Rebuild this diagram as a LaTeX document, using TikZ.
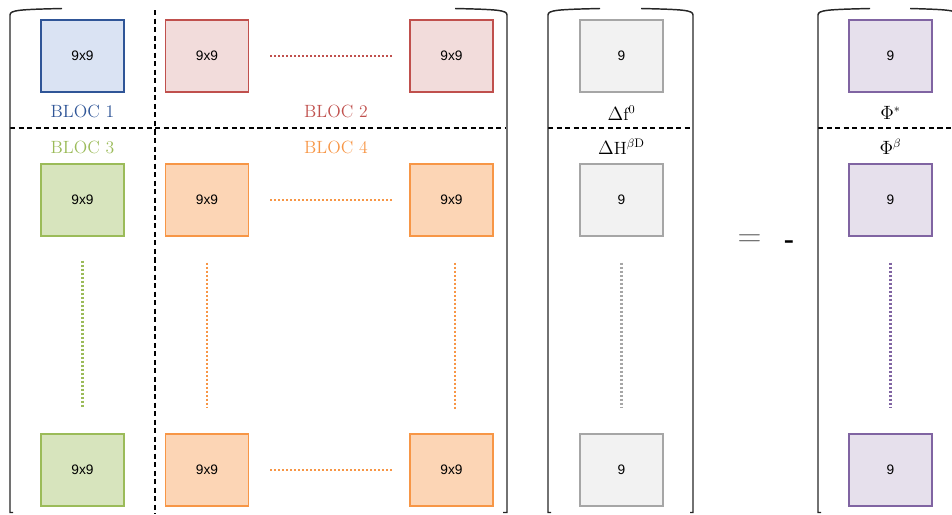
\documentclass[tikz,border=0pt]{standalone}
\usepackage{fontspec}
\usepackage{amsmath}
\usetikzlibrary{positioning}
\newfontfamily\cellfont{Liberation Sans}
\definecolor{blocblue}{HTML}{2F5597}
\definecolor{blocbluefill}{HTML}{DAE3F3}
\definecolor{blocred}{HTML}{C0504D}
\definecolor{blocredfill}{HTML}{F2DCDB}
\definecolor{blocgreen}{HTML}{9BBB59}
\definecolor{blocgreenfill}{HTML}{D7E4BD}
\definecolor{blocorange}{HTML}{F79646}
\definecolor{blocorangefill}{HTML}{FCD5B5}
\definecolor{vecgray}{HTML}{A6A6A6}
\definecolor{vecgrayfill}{HTML}{F2F2F2}
\definecolor{vecpurple}{HTML}{8064A2}
\definecolor{vecpurplefill}{HTML}{E6E0EC}
\tikzset{
  cell/.style={draw=#1, fill=#1fill, line width=1.1pt, minimum width=62.25pt, minimum height=54pt, inner sep=0pt, font=\cellfont\fontsize{10.3}{12}\selectfont},
  bloclabel/.style={text=#1, font=\fontsize{13.3}{16}\selectfont},
  veclabel/.style={font=\fontsize{13.3}{16}\selectfont},
  dots/.style={draw=#1, line width=1.6pt, dash pattern=on 1.6pt off 1.4pt},
  split/.style={line width=0.9pt, dash pattern=on 3.8pt off 2.6pt},
  bracket/.style={line width=1.1pt, black!85},
}
\begin{document}
\begin{tikzpicture}[x=0.75pt, y=-0.75pt]
    \useasboundingbox (0,0) rectangle (952,514);
    % matrix blocks
    \node[cell=blocblue] (b1) at (82.5,56) {9x9};
    \node[cell=blocred, right=30pt of b1] (b2a) {9x9};
    \node[cell=blocred, right=120pt of b2a] (b2b) {9x9};
    \node[cell=blocgreen] (b3a) at (82.5,200) {9x9};
    \node[cell=blocgreen] (b3b) at (82.5,470) {9x9};
    \node[cell=blocorange, right=30pt of b3a] (b4a) {9x9};
    \node[cell=blocorange, right=120pt of b4a] (b4b) {9x9};
    \node[cell=blocorange, right=30pt of b3b] (b4c) {9x9};
    \node[cell=blocorange, right=120pt of b4c] (b4d) {9x9};
    \node[bloclabel=blocblue] (l1) at (82.5,111) {BLOC 1};
    \node[bloclabel=blocred] (l2) at (336,111) {BLOC 2};
    \node[bloclabel=blocgreen] (l3) at (82.5,147) {BLOC 3};
    \node[bloclabel=blocorange] (l4) at (336,147) {BLOC 4};
    \draw[dots=blocred, shorten <=15.75pt, shorten >=12.75pt] (b2a) -- (b2b);
    \draw[dots=blocorange, shorten <=15.75pt, shorten >=12.75pt] (b4a) -- (b4b);
    \draw[dots=blocorange, shorten <=15.75pt, shorten >=12.75pt] (b4c) -- (b4d);
    \draw[dots=blocgreen, shorten <=18pt, shorten >=19.5pt] (b3a) -- (b3b);
    \draw[dots=blocorange, shorten <=19.5pt, shorten >=19.5pt] (b4a) -- (b4c);
    \draw[dots=blocorange, shorten <=19.5pt, shorten >=18pt] ([xshift=2.6pt]b4b.south) -- ([xshift=2.6pt]b4d.north);
    \draw[split] (155,10) -- (155,514);
    \draw[split] (10,128) -- (505,128);
    \draw[bracket] (62,8.5) .. controls (20,9.5) and (10,10) .. (10,15) -- (10,512.5) -- (13,512.5);
    \draw[bracket] (455,8.5) .. controls (497,9.5) and (507,10) .. (507,15) -- (507,512.5) -- (503,512.5);
    % vector of differences
    \node[cell=vecgray] (d1) at (621.5,56) {9};
    \node[cell=vecgray] (d2) at (621.5,200) {9};
    \node[cell=vecgray] (d3) at (621.5,470) {9};
    \node[veclabel] (ld1) at (621.5,113) {$\Delta\mathrm{f}^{0}$};
    \node[veclabel] (ld2) at (621.5,147) {$\Delta\mathrm{H}^{\beta\mathrm{D}}$};
    \draw[dots=vecgray, shorten <=19.5pt, shorten >=19.5pt] (d2) -- (d3);
    \draw[split] (548,128) -- (693,128);
    \draw[bracket] (600,8.5) .. controls (558,9.5) and (548,10) .. (548,15) -- (548,512.5) -- (551,512.5);
    \draw[bracket] (641,8.5) .. controls (683,9.5) and (693,10) .. (693,15) -- (693,512.5) -- (690,512.5);
    \node[text=black!60, font=\fontsize{23.6}{24}\selectfont] (eq) at (749.5,241) {$=$};
    \node[font=\cellfont\fontsize{24}{24}\selectfont] (minus) at (789,246) {-};
    % vector of phases
    \node[cell=vecpurple] (p1) at (890.5,56) {9};
    \node[cell=vecpurple] (p2) at (890.5,200) {9};
    \node[cell=vecpurple] (p3) at (890.5,470) {9};
    \node[veclabel] (lp1) at (890.5,113) {$\Phi^{*}$};
    \node[veclabel] (lp2) at (890.5,147) {$\Phi^{\beta}$};
    \draw[dots=vecpurple, shorten <=19.5pt, shorten >=19.5pt] (p2) -- (p3);
    \draw[split] (818,128) -- (952,128);
    \draw[bracket] (870,8.5) .. controls (828,9.5) and (818,10) .. (818,15) -- (818,512.5) -- (821,512.5);
    \draw[bracket] (910,8.5) .. controls (945,9.5) and (955,10) .. (958,14);
\end{tikzpicture}
\end{document}
